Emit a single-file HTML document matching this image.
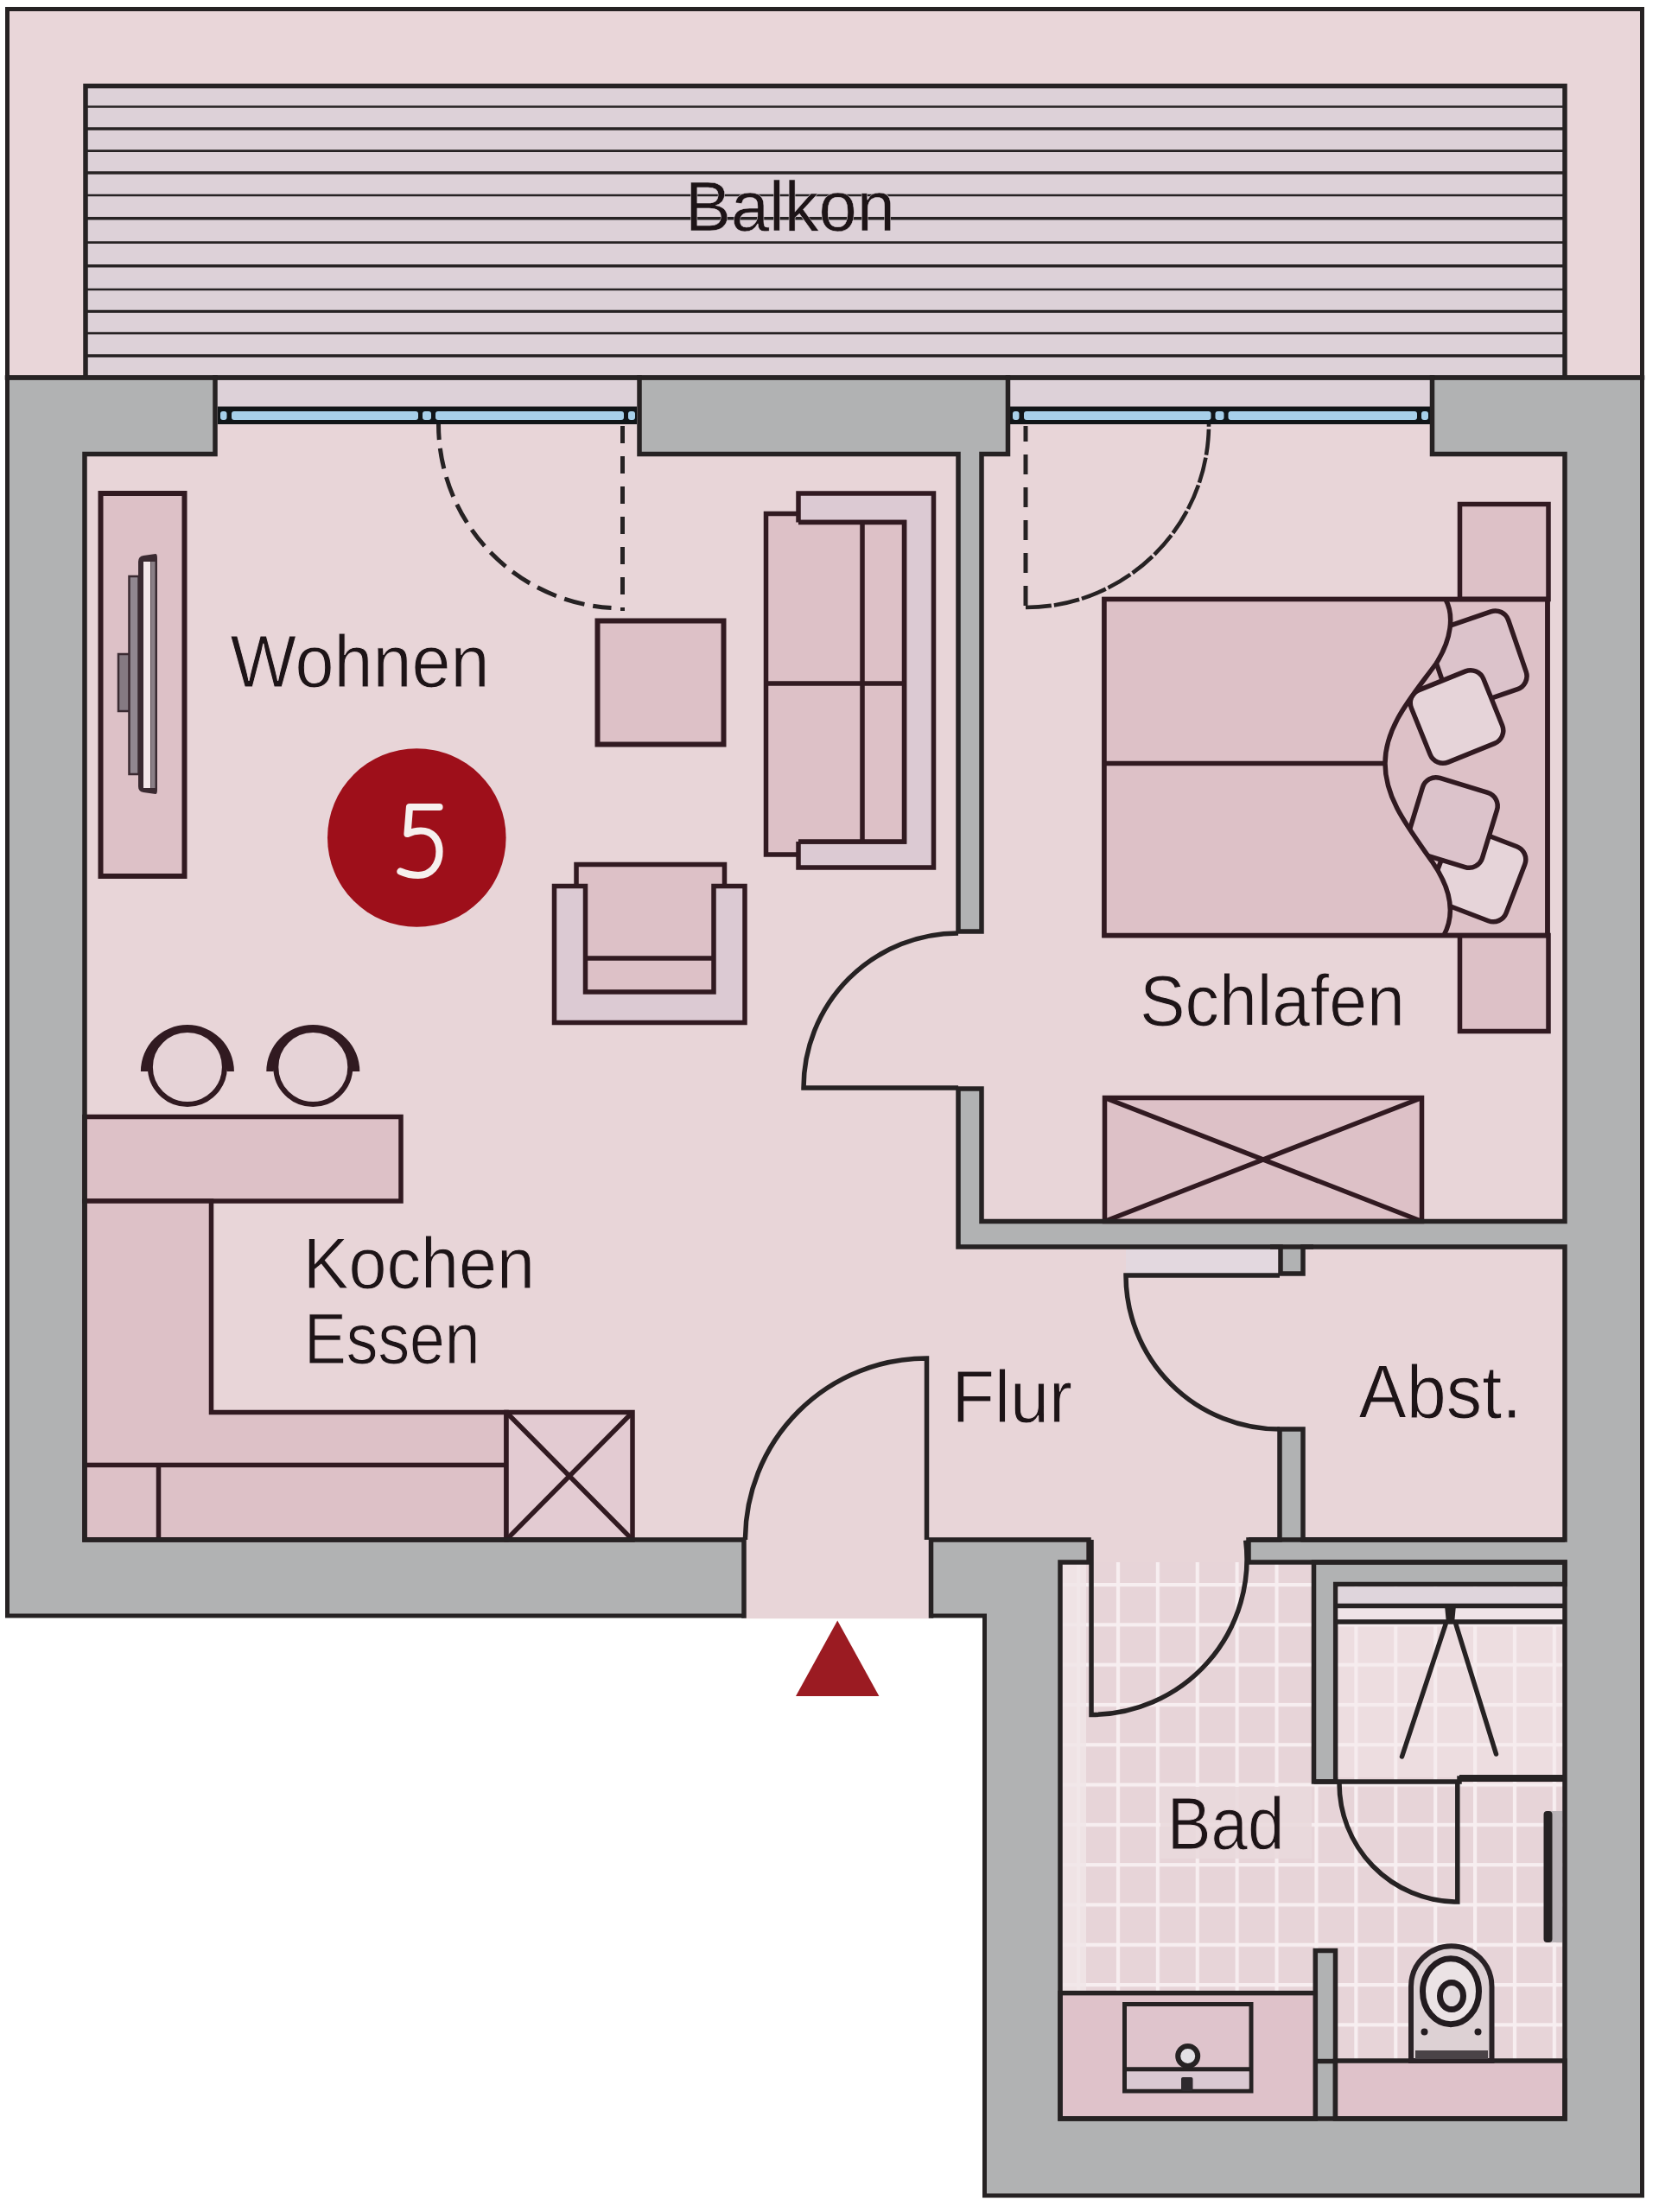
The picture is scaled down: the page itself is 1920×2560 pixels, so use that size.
<!DOCTYPE html>
<html><head><meta charset="utf-8">
<style>
html,body{margin:0;padding:0;background:#fff;}
body{width:1920px;height:2560px;overflow:hidden;}
svg{display:block;}
text{font-family:"Liberation Sans",sans-serif;}
</style></head>
<body>
<svg width="1920" height="2560" viewBox="0 0 1920 2560">
<rect width="1920" height="2560" fill="#ffffff"/>
<rect x="8.5" y="10.5" width="1892" height="427" fill="#e9d6d9" stroke="#262223" stroke-width="5"/>
<rect x="99" y="99.5" width="1712" height="337.5" fill="#ddd1d8"/>
<g stroke="#262223"><line x1="99" y1="123.5" x2="1811" y2="123.5" stroke-width="2.6"/><line x1="99" y1="149" x2="1811" y2="149" stroke-width="3.4"/><line x1="99" y1="174.6" x2="1811" y2="174.6" stroke-width="2.6"/><line x1="99" y1="200" x2="1811" y2="200" stroke-width="3.4"/><line x1="99" y1="226" x2="1811" y2="226" stroke-width="2.6"/><line x1="99" y1="252.8" x2="1811" y2="252.8" stroke-width="3.4"/><line x1="99" y1="280.6" x2="1811" y2="280.6" stroke-width="2.6"/><line x1="99" y1="307.8" x2="1811" y2="307.8" stroke-width="3.4"/><line x1="99" y1="335" x2="1811" y2="335" stroke-width="2.6"/><line x1="99" y1="360.4" x2="1811" y2="360.4" stroke-width="3.4"/><line x1="99" y1="385.6" x2="1811" y2="385.6" stroke-width="2.6"/><line x1="99" y1="411.8" x2="1811" y2="411.8" stroke-width="3.4"/></g>
<path d="M99,437 V99.5 H1811 V437" fill="none" stroke="#262223" stroke-width="5.5"/>
<text x="793.0" y="266.5" font-size="81.7" textLength="242.8" lengthAdjust="spacingAndGlyphs" fill="#1d1417" stroke="#ddd1d8" stroke-width="0.5">Balkon</text>
<path d="M8.5,437 H1900.5 V2541 H1139.5 V1870 H861 H8.5 Z" fill="#b1b2b3" stroke="#262223" stroke-width="5"/>
<g fill="#e8d5d8"><path d="M98,525.5 H249 V440 H740 V525.5 H1109 V1443 H1481 V1782 H1077.5 V1873.2 H861 V1782 H98 Z"/><path d="M1137,525.5 H1166.5 V440 H1659 V525.5 H1811 V1413.5 H1137 Z"/><rect x="1105" y="1080" width="36" height="178"/><rect x="1507.5" y="1443" width="303.5" height="339"/><rect x="1478" y="1476" width="33" height="178"/><rect x="1257" y="1779" width="190" height="33"/></g>
<defs><pattern id="tiles" x="1246" y="1785.7" width="45.9" height="46.3" patternUnits="userSpaceOnUse"><rect width="45.9" height="46.3" fill="#e7d4d8"/><rect x="0" y="0" width="4.2" height="46.3" fill="#f7eef0"/><rect x="0" y="0" width="45.9" height="4.2" fill="#f7eef0"/></pattern></defs>
<rect x="1227" y="1808" width="584" height="644" fill="url(#tiles)"/>
<rect x="1229" y="1810" width="28" height="495" fill="#f0e5e8" opacity="0.85"/>
<rect x="1343" y="2068" width="175" height="83" fill="#e9d9dc" opacity="0.88"/>
<rect x="1303" y="1445" width="176" height="29" fill="#e3d8df"/>
<rect x="252" y="440" width="485" height="30.5" fill="#ddd1d8"/><rect x="252" y="470.5" width="485" height="20.5" fill="#111518"/><rect x="255" y="476" width="7.5" height="10" rx="3" fill="#a7d0ea"/><rect x="268" y="476" width="216" height="10" rx="3" fill="#a7d0ea"/><rect x="489" y="476" width="10" height="10" rx="3" fill="#a7d0ea"/><rect x="504" y="476" width="218" height="10" rx="3" fill="#a7d0ea"/><rect x="727" y="476" width="8" height="10" rx="3" fill="#a7d0ea"/>
<rect x="1169" y="440" width="486" height="30.5" fill="#ddd1d8"/><rect x="1169" y="470.5" width="486" height="20.5" fill="#111518"/><rect x="1172" y="476" width="7.5" height="10" rx="3" fill="#a7d0ea"/><rect x="1185" y="476" width="216.5" height="10" rx="3" fill="#a7d0ea"/><rect x="1406.5" y="476" width="10.0" height="10" rx="3" fill="#a7d0ea"/><rect x="1421.5" y="476" width="218.5" height="10" rx="3" fill="#a7d0ea"/><rect x="1645" y="476" width="8" height="10" rx="3" fill="#a7d0ea"/>
<g fill="none" stroke="#262223" stroke-width="5"><path d="M507.5,491.0 A213,213 0 0 0 707.5,703.6" stroke-dasharray="24 10" stroke-dashoffset="6"/><path d="M720.5,493 V707" stroke-dasharray="20 15"/><path d="M1187.0,703.0 A212,212 0 0 0 1399.0,491.0" stroke-dasharray="30 3" stroke-width="4.6"/><path d="M1187,493 V703" stroke-dasharray="23 15" stroke-dashoffset="5"/></g>
<g fill="none" stroke="#262223" stroke-width="5.5"><path d="M1109,1259 H930 A179,179 0 0 1 1109.0,1080.0"/><path d="M1481,1476 H1303 A178,178 0 0 0 1481.0,1654.0"/><path d="M1072.5,1782 V1572 A210,210 0 0 0 862.5,1782.0"/><path d="M1263,1782 V1984.5 A180,180 0 0 0 1441.7,1782.6"/><path d="M1445,1782 H1811"/><path d="M1470,1443 H1520"/></g>
<rect x="116.5" y="571" width="97" height="443" fill="#ddc1c7" stroke="#311a21" stroke-width="6"/>
<rect x="137" y="757" width="14" height="66" fill="#857a82" stroke="#3a2a31" stroke-width="2.5"/>
<rect x="149.5" y="667" width="11" height="229" fill="#918790" stroke="#3a2a31" stroke-width="2.5"/>
<path d="M160,650 Q160,644 166,643 L180,641 Q182,641 182,646 L182,914 Q182,919 180,919 L166,917 Q160,916 160,910 Z" fill="#3a2a31"/>
<rect x="166" y="650" width="8" height="262" fill="#f4e8ea"/>
<rect x="174.5" y="650" width="5" height="262" fill="#8a7f86"/>
<rect x="691.5" y="718.5" width="146" height="143" fill="#ddc1c7" stroke="#311a21" stroke-width="6"/>
<path d="M886.5,594.5 H924 V989 H886.5 Z" fill="#ddc1c7"/>
<path d="M924,571 H1080.5 V1004 H924 V974 H1046.5 V604.5 H924 Z" fill="#dccad3" stroke="#311a21" stroke-width="5.5"/>
<path d="M886.5,604.5 H1046.5 V974 H886.5 Z" fill="#ddc1c7"/>
<path d="M924,604.5 H1046.5 V974 H924" fill="none" stroke="#311a21" stroke-width="5.5"/>
<path d="M924,594.5 H886.5 V989 H924" fill="none" stroke="#311a21" stroke-width="5.5"/>
<path d="M998,604.5 V974 M886.5,791 H1046.5" fill="none" stroke="#311a21" stroke-width="5.5"/>
<path d="M667,1023 V1000.5 H838.5 V1023" fill="#ddc1c7" stroke="#311a21" stroke-width="5.5"/>
<rect x="675" y="1010" width="153" height="140" fill="#ddc1c7"/>
<path d="M641.5,1025.5 H677.5 V1148 H826 V1025.5 H862 V1183.5 H641.5 Z" fill="#dccad3" stroke="#311a21" stroke-width="5.5"/>
<path d="M677.5,1109 H826" fill="none" stroke="#311a21" stroke-width="5.5"/>
<path d="M162.9,1240 A54,54 0 0 1 270.9,1240 L262.6,1240 A46,46 0 0 0 171.2,1240 Z" fill="#311a21"/>
<circle cx="216.9" cy="1235" r="43" fill="#e6d3d7" stroke="#311a21" stroke-width="6"/>
<path d="M308.3,1240 A54,54 0 0 1 416.3,1240 L408.0,1240 A46,46 0 0 0 316.6,1240 Z" fill="#311a21"/>
<circle cx="362.3" cy="1235" r="43" fill="#e6d3d7" stroke="#311a21" stroke-width="6"/>
<rect x="98" y="1292.5" width="366" height="97.5" fill="#ddc1c7" stroke="#311a21" stroke-width="5.5"/>
<path d="M98,1390 H244.5 V1634.5 H586 V1782 H98 Z" fill="#ddc1c7" stroke="#311a21" stroke-width="5.5"/>
<path d="M98,1695.5 H586 M183.5,1695.5 V1782" fill="none" stroke="#311a21" stroke-width="5.5"/>
<rect x="586" y="1634.5" width="146" height="147.5" fill="#e3cbd2" stroke="#311a21" stroke-width="5.5"/>
<path d="M586,1634.5 L732,1782 M732,1634.5 L586,1782" fill="none" stroke="#311a21" stroke-width="5.5"/>
<rect x="1689.5" y="583.5" width="102.5" height="110" fill="#ddc1c7" stroke="#311a21" stroke-width="5.5"/>
<rect x="1689.5" y="1082.5" width="102.5" height="111" fill="#ddc1c7" stroke="#311a21" stroke-width="5.5"/>
<rect x="1278" y="693.6" width="513" height="389" fill="#ddc1c7" stroke="#311a21" stroke-width="5.5"/>
<rect x="-47.5" y="-47.5" width="95" height="95" rx="16" fill="#dcc3cb" stroke="#311a21" stroke-width="5.5" transform="translate(1711,763) rotate(-19)"/>
<rect x="-45.0" y="-45.0" width="90" height="90" rx="16" fill="#e6d4d9" stroke="#311a21" stroke-width="5.5" transform="translate(1686,829.5) rotate(-22)"/>
<rect x="-46.0" y="-46.0" width="92" height="92" rx="16" fill="#e6d4d9" stroke="#311a21" stroke-width="5.5" transform="translate(1711,1012) rotate(21)"/>
<rect x="-45.0" y="-45.0" width="90" height="90" rx="16" fill="#dcc3cb" stroke="#311a21" stroke-width="5.5" transform="translate(1681,952) rotate(17)"/>
<path d="M1278,693.6 H1673 C1683,712 1680,740 1662,768 C1635,805 1603,840 1603,883.5 C1603,925 1630,958 1658,998 C1680,1030 1684,1058 1671,1082.5 H1278 Z" fill="#ddc1c7"/>
<path d="M1673,693.6 C1683,712 1680,740 1662,768 C1635,805 1603,840 1603,883.5 C1603,925 1630,958 1658,998 C1680,1030 1684,1058 1671,1082.5" fill="none" stroke="#311a21" stroke-width="5.5"/>
<path d="M1278,883.5 H1604" fill="none" stroke="#311a21" stroke-width="5.5"/>
<path d="M1278,693.6 H1791 V1082.5 H1278 Z" fill="none" stroke="#311a21" stroke-width="5.5"/>
<rect x="1278.5" y="1270.5" width="367" height="143" fill="#ddc1c7" stroke="#311a21" stroke-width="5.5"/>
<path d="M1278.5,1270.5 L1645.5,1413.5 M1645.5,1270.5 L1278.5,1413.5" fill="none" stroke="#311a21" stroke-width="5.5"/>
<path d="M1520.5,1808 V2062 H1545.7 V1833.6 H1811 V1808 Z" fill="#b1b2b3" stroke="#262223" stroke-width="5.5"/>
<rect x="1548.5" y="1836.5" width="260" height="20" fill="#dfd5dc"/>
<rect x="1548.5" y="1861" width="260" height="14" fill="#efe4e8"/>
<rect x="1548.5" y="1880" width="260" height="177" fill="#f3e9ec" opacity="0.45"/>
<path d="M1545.7,1858.5 H1811 M1545.7,1877 H1811" fill="none" stroke="#262223" stroke-width="5.5"/>
<path d="M1672,1858 H1685 L1683,1879 H1674 Z" fill="#262223"/>
<path d="M1673,1880 L1622.5,2033 M1685,1880 L1731.5,2030" fill="none" stroke="#262223" stroke-width="5.5" stroke-linecap="round"/>
<path d="M1520.5,2062 H1689 V2058 H1811" fill="none" stroke="#262223" stroke-width="5.5"/>
<path d="M1811,2058 H1689" fill="none" stroke="#262223" stroke-width="8"/>
<path d="M1686.8,2062 V2201 H1683 A137,137 0 0 1 1550,2064" fill="none" stroke="#262223" stroke-width="5.5"/>
<rect x="1789" y="2096" width="19" height="152" fill="#b9b3b7"/>
<rect x="1786.5" y="2096" width="10" height="152" rx="4" fill="#262223"/>
<path d="M1522.3,2452 V2257.5 H1545.5 V2452" fill="#b1b2b3" stroke="#262223" stroke-width="5.5"/>
<path d="M1522.3,2385.5 H1545.5" fill="none" stroke="#262223" stroke-width="5.5"/>
<rect x="1227" y="2306.6" width="295.3" height="145.4" fill="#dfc2ca" stroke="#262223" stroke-width="5.5"/>
<rect x="1301.5" y="2319.5" width="146.5" height="100.5" fill="#dfc4cc" stroke="#262223" stroke-width="5"/>
<rect x="1304" y="2397" width="141.5" height="20.5" fill="#d9c9d2"/>
<path d="M1301.5,2394.7 H1448" fill="none" stroke="#262223" stroke-width="5"/>
<circle cx="1374.7" cy="2379.4" r="11.5" fill="#e3e1e5" stroke="#262223" stroke-width="6"/>
<rect x="1367" y="2404" width="13.5" height="16" rx="2" fill="#2e2a2e"/>
<rect x="1545.5" y="2385" width="265.5" height="67" fill="#dfc2ca" stroke="#262223" stroke-width="5.5"/>
<path d="M1633,2385 V2299 A46.75,46.75 0 0 1 1726.5,2299 V2385 Z" fill="#ddd1d4" stroke="#2a2226" stroke-width="6"/>
<rect x="1638" y="2373" width="84" height="10" fill="#4a4347"/>
<ellipse cx="1679" cy="2304.7" rx="32.5" ry="38" fill="#ebe3e5" stroke="#231c20" stroke-width="7"/>
<ellipse cx="1680" cy="2310" rx="13.5" ry="15.5" fill="#e2dadd" stroke="#231c20" stroke-width="7"/>
<circle cx="1648.5" cy="2351.5" r="4" fill="#231c20"/><circle cx="1710.5" cy="2351.5" r="4" fill="#231c20"/>
<g fill="none" stroke="#262223" stroke-width="5.5" stroke-linejoin="miter" stroke-linecap="square"><path d="M8.5,437 H1900.5"/><path d="M249,437 V525.5 H98 V1782 H861 V1870"/><path d="M740,437 V525.5 H1109 V1078 H1136 V525.5 H1166.5 V437"/><path d="M1657.5,437 V525.5 H1811 V1413.5 H1136 V1260 H1109 V1443 H1482 V1474 H1508 V1443 H1811 V1782 H1508 V1654 H1481 V1782 H1445 V1808 H1811 V2452 H1227 V1808 H1260 V1782 H1077.5 V1870"/></g>
<text x="266.5" y="794.6" font-size="85.2" textLength="300.0" lengthAdjust="spacingAndGlyphs" fill="#1d1417" stroke="#e8d5d8" stroke-width="1.0">Wohnen</text>
<text x="1318.9" y="1186.9" font-size="84.3" textLength="307.0" lengthAdjust="spacingAndGlyphs" fill="#1d1417" stroke="#e8d5d8" stroke-width="1.0">Schlafen</text>
<text x="350.7" y="1491.4" font-size="84.2" textLength="268.4" lengthAdjust="spacingAndGlyphs" fill="#1d1417" stroke="#e8d5d8" stroke-width="1.0">Kochen</text>
<text x="352.0" y="1578.2" font-size="84.2" textLength="203.5" lengthAdjust="spacingAndGlyphs" fill="#1d1417" stroke="#e8d5d8" stroke-width="1.0">Essen</text>
<text x="1101.5" y="1646.4" font-size="86.0" textLength="139.6" lengthAdjust="spacingAndGlyphs" fill="#1d1417" stroke="#e8d5d8" stroke-width="1.0">Flur</text>
<text x="1572.5" y="1640.9" font-size="87.4" textLength="188.7" lengthAdjust="spacingAndGlyphs" fill="#1d1417" stroke="#e8d5d8" stroke-width="1.0">Abst.</text>
<text x="1350.7" y="2139.6" font-size="85.6" textLength="135.6" lengthAdjust="spacingAndGlyphs" fill="#1d1417" stroke="#e7d4d8" stroke-width="1.0">Bad</text>
<circle cx="482.3" cy="969.5" r="103.3" fill="#9e0f1a"/>
<path d="M508.5,934 H474 L471.5,965 C478,962 483,961.5 487,961.5 C499,961.5 508.5,970 508.5,985.5 C508.5,1002 498,1013 484,1013 C476,1013 469,1011 463.5,1008.5" fill="none" stroke="#f6f0ee" stroke-width="8.2" stroke-linecap="round" stroke-linejoin="round"/>
<path d="M969.2,1875.6 L1017.4,1963 L921,1963 Z" fill="#9b1b22"/>
</svg>
</body></html>
